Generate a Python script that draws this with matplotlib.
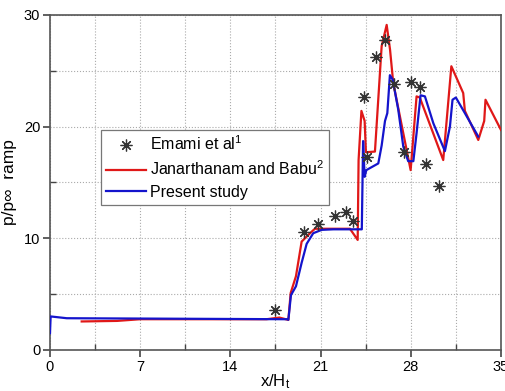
import numpy as np
import matplotlib
matplotlib.use("Agg")
from matplotlib import pyplot as plt
from matplotlib.ticker import MultipleLocator

plt.rcParams["font.family"] = ["Liberation Sans", "DejaVu Sans"]
plt.rcParams["mathtext.fontset"] = "custom"
plt.rcParams["mathtext.rm"] = "Liberation Sans"
plt.rcParams["mathtext.it"] = "Liberation Sans"

# Emami et al (experiment)
emami_x = [17.46, 19.74, 20.77, 22.12, 22.94, 23.54, 24.39, 24.57, 25.30, 25.97,
           26.70, 27.50, 28.02, 28.69, 29.16, 30.19]
emami_y = [3.58, 10.54, 11.25, 12.03, 12.39, 11.55, 22.66, 17.31, 26.27, 27.76,
           23.79, 17.76, 24.03, 23.52, 16.66, 14.66]

# Janarthanam and Babu
red_x = [2.46, 5.2, 7.0, 16.8, 17.8, 18.5, 18.68, 19.09, 19.53, 20.18, 20.56,
         23.28, 23.88, 23.95, 24.17, 24.42, 24.52, 25.22, 25.74, 26.13, 26.39,
         26.64, 27.16, 27.68, 27.99, 28.45, 28.7, 30.52, 31.15, 32.07, 32.2,
         33.24, 33.7, 33.8, 35.0]
red_y = [2.55, 2.6, 2.75, 2.75, 2.9, 2.69, 5.1, 6.6, 9.7, 10.45, 10.85,
         10.85, 9.85, 17.0, 21.4, 20.5, 17.7, 17.76, 27.2, 29.1, 26.9,
         23.9, 20.9, 17.9, 16.1, 22.7, 22.6, 17.0, 25.4, 23.0, 21.4,
         18.8, 20.5, 22.4, 19.7]

# Present study
blue_x = [0.0, 0.05, 1.3, 18.4, 18.5, 18.7, 19.09, 19.53, 19.92, 20.43, 21.08,
          22.0, 24.2, 24.3, 24.42, 24.55, 25.48, 25.74, 26.0, 26.18, 26.38,
          26.6, 27.03, 27.42, 27.8, 28.2, 28.45, 28.76, 29.1, 29.75, 30.65,
          31.04, 31.24, 31.5, 32.2, 33.24]
blue_y = [1.5, 3.0, 2.84, 2.75, 2.7, 4.9, 5.7, 7.8, 9.5, 10.45, 10.75,
          10.8, 10.8, 18.7, 15.5, 16.1, 16.7, 18.3, 20.5, 21.2, 24.6,
          24.2, 21.5, 18.2, 16.9, 16.9, 19.4, 22.8, 22.7, 20.3, 17.8,
          20.0, 22.4, 22.6, 21.2, 19.1]

fig = plt.figure(figsize=(5.05, 3.91), dpi=100)
ax = fig.add_axes([0.099, 0.105, 0.893, 0.857])

ax.plot(red_x, red_y, color="#e01818", lw=1.6, label="Janarthanam and Babu$^2$", zorder=3)
ax.plot(blue_x, blue_y, color="#1414cc", lw=1.6, label="Present study", zorder=4)
ax.plot(emami_x, emami_y, ls="none", marker=(8, 2, 0), ms=8.5, mew=0.9,
        color="#333333", label="Emami et al$^1$", zorder=5)

ax.set_xlim(0, 35)
ax.set_ylim(0, 30)
ax.xaxis.set_major_locator(MultipleLocator(7))
ax.xaxis.set_minor_locator(MultipleLocator(3.5))
ax.yaxis.set_major_locator(MultipleLocator(10))
ax.yaxis.set_minor_locator(MultipleLocator(5))
ax.grid(which="both", color="#aaaaaa", ls=":", lw=0.8)
ax.set_axisbelow(True)

for sp in ax.spines.values():
    sp.set_color("#555555")
    sp.set_linewidth(1.2)
ax.tick_params(which="major", direction="out", length=5, width=1.2, color="#444444",
               labelsize=10.5, pad=2, top=False, right=False)
ax.tick_params(which="minor", direction="in", length=4, width=1.0, color="#444444",
               top=False, right=False)

ax.set_xlabel("x/H$_t$", fontsize=12, labelpad=-1)
ax.set_ylabel("p/p\u221e  ramp", fontsize=12.5, labelpad=5)

handles, labels = ax.get_legend_handles_labels()
order = [2, 0, 1]
leg = ax.legend([handles[i] for i in order], [labels[i] for i in order],
                loc="upper left", bbox_to_anchor=(0.113, 0.657), fontsize=11.5,
                fancybox=False, framealpha=1, edgecolor="#777777",
                handlelength=2.5, handletextpad=0.25, borderpad=0.3,
                borderaxespad=0, labelspacing=0.4)
leg.get_frame().set_linewidth(0.9)

fig.savefig("out.png", dpi=100)
